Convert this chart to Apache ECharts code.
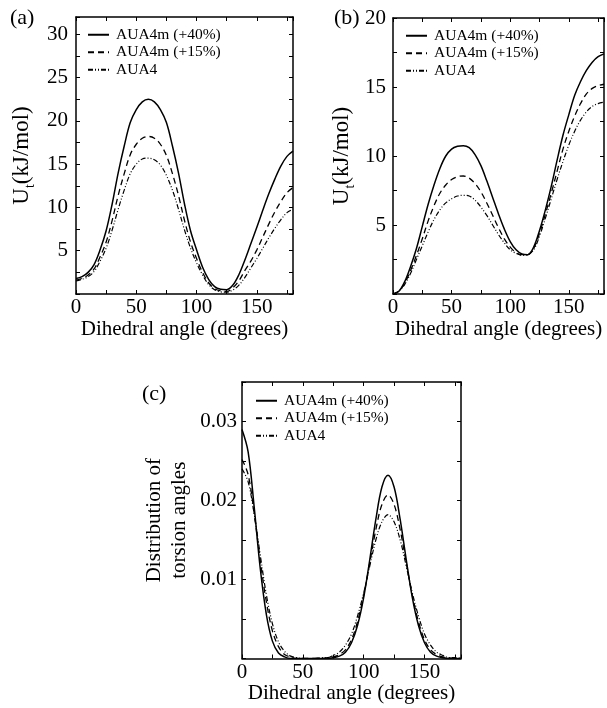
<!DOCTYPE html>
<html>
<head>
<meta charset="utf-8">
<script src="https://cdn.jsdelivr.net/npm/echarts@6/dist/echarts.min.js"></script>
<style>html,body{margin:0;padding:0;background:#fff;}#c{width:607px;height:708px;}</style>
</head>
<body>
<div id="c"></div>
<script>
const angles = [0,5,10,15,20,25,30,35,40,45,50,55,60,65,70,75,80,85,90,95,100,105,110,115,120,125,130,135,140,145,150,155,160,165,170,175,180];
const seriesNames = ['AUA4m (+40%)', 'AUA4m (+15%)', 'AUA4'];

// Panel (a): torsional potential, kJ/mol
const a40 = [1.8,2.0,2.5,3.4,5.1,7.3,10.4,14.0,17.1,19.8,21.3,22.2,22.5,22.2,21.3,19.8,17.1,14.0,10.4,7.3,5.1,3.1,1.7,0.85,0.55,0.5,1.0,2.2,3.9,5.8,7.7,9.7,11.6,13.3,14.8,15.9,16.5];
const a15 = [1.6,1.8,2.2,2.9,4.3,6.0,8.5,11.4,13.9,16.1,17.3,18.0,18.2,18.0,17.3,16.0,13.9,11.4,8.5,6.0,4.1,2.5,1.3,0.6,0.35,0.3,0.7,1.5,2.7,3.8,5.1,6.6,8.1,9.5,10.7,11.7,12.3];
const a4  = [1.5,1.7,2.0,2.6,3.8,5.3,7.4,9.8,12.0,13.9,15.0,15.6,15.7,15.5,14.9,13.7,12.0,9.8,7.4,5.3,3.6,2.2,1.1,0.5,0.25,0.2,0.45,1.0,1.9,3.0,4.1,5.3,6.5,7.6,8.6,9.4,9.8];

// Panel (b): torsional potential, kJ/mol
const b40 = [0,0.2,0.9,2.0,3.3,4.9,6.5,7.9,9.1,10.0,10.5,10.7,10.75,10.6,10.1,9.3,8.2,7.0,5.8,4.7,3.8,3.2,2.9,2.85,3.4,4.6,6.1,7.8,9.7,11.5,13.0,14.4,15.4,16.2,16.8,17.2,17.4];
const b15 = [0,0.2,0.8,1.7,2.8,4.0,5.3,6.4,7.3,7.9,8.3,8.5,8.55,8.4,8.0,7.4,6.6,5.7,4.8,4.0,3.4,3.0,2.85,2.85,3.3,4.4,5.8,7.3,8.9,10.5,11.8,12.9,13.8,14.5,14.9,15.1,15.2];
const b4  = [0,0.2,0.7,1.5,2.5,3.5,4.5,5.4,6.1,6.6,6.9,7.1,7.15,7.1,6.8,6.3,5.7,5.0,4.3,3.7,3.2,2.95,2.8,2.85,3.2,4.2,5.5,6.9,8.3,9.6,10.8,11.8,12.6,13.2,13.6,13.8,13.9];

// Panel (c): distribution of torsion angles
const c40 = [0.0290,0.0262,0.0192,0.0114,0.0056,0.0022,0.0007,0.0002,0,0,0,0,0,0,0,0.0001,0.0003,0.0008,0.0020,0.0042,0.0077,0.0125,0.0176,0.0217,0.0232,0.0217,0.0176,0.0125,0.0077,0.0042,0.0020,0.0008,0.0003,0.0001,0,0,0];
const c15 = [0.0252,0.0233,0.0184,0.0124,0.0072,0.0035,0.0015,0.0005,0.0002,0,0,0,0,0,0.0001,0.0002,0.0005,0.0011,0.0024,0.0047,0.0080,0.0121,0.0163,0.0195,0.0207,0.0195,0.0163,0.0121,0.0080,0.0047,0.0024,0.0011,0.0005,0.0002,0.0001,0,0];
const c4  = [0.0240,0.0224,0.0183,0.0131,0.0081,0.0044,0.0021,0.0009,0.0003,0.0001,0,0,0,0.0001,0.0001,0.0004,0.0008,0.0017,0.0031,0.0054,0.0083,0.0117,0.0150,0.0173,0.0182,0.0173,0.0150,0.0117,0.0083,0.0054,0.0031,0.0017,0.0008,0.0004,0.0001,0.0001,0];

const FONT = 'Liberation Serif';
const BLACK = '#000';
const lineStyles = [
  {type: 'solid', width: 1.5, color: BLACK},
  {type: [6, 4], width: 1.3, color: BLACK},
  {type: [5, 2, 1, 2, 1, 2], width: 1.2, color: BLACK}
];

const grids = [
  {left: 76, top: 17, width: 217, height: 277},
  {left: 393, top: 18, width: 218, height: 276},
  {left: 242, top: 382, width: 219, height: 276.5}
];

const xNameGaps = [25, 25, 21];
const xAxes = [];
grids.forEach((g, i) => {
  xAxes.push({
    gridIndex: i, type: 'value', min: 0, max: 180, interval: 25, position: 'bottom',
    axisLine: {show: true, onZero: false, lineStyle: {color: BLACK, width: 1.5}},
    axisTick: {show: true, inside: true, length: 4, lineStyle: {color: BLACK, width: 1}},
    axisLabel: {color: BLACK, fontFamily: FONT, fontSize: 21, margin: 3,
      formatter: v => (Math.round(v) % 50 === 0 && v < 180) ? String(Math.round(v)) : ''},
    splitLine: {show: false},
    name: 'Dihedral angle (degrees)', nameLocation: 'middle', nameGap: xNameGaps[i],
    nameTextStyle: {color: BLACK, fontFamily: FONT, fontSize: 21}
  });
  xAxes.push({
    gridIndex: i, type: 'value', min: 0, max: 180, interval: 25, position: 'top',
    axisLine: {show: true, onZero: false, lineStyle: {color: BLACK, width: 1.5}},
    axisTick: {show: true, inside: true, length: 4, lineStyle: {color: BLACK, width: 1}},
    axisLabel: {show: false}, splitLine: {show: false}
  });
});

const yCfg = [
  {max: 32, interval: 2.5, fmt: v => (Math.abs(v % 5) < 1e-6 && v > 0 && v <= 30) ? String(v) : ''},
  {max: 20, interval: 2.5, fmt: v => (Math.abs(v % 5) < 1e-6 && v > 0) ? String(v) : ''},
  {max: 0.035, interval: 0.005, fmt: v => { const r = Math.round(v * 1000); return (r % 10 === 0 && r > 0 && r <= 30) ? (r / 1000).toFixed(2) : ''; }}
];
const uRich = {
  u: {fontSize: 23, fontFamily: FONT, color: BLACK, lineHeight: 30},
  s: {fontSize: 14, fontFamily: FONT, color: BLACK, lineHeight: 14, verticalAlign: 'bottom'}
};
const yNames = [
  {name: '{u|U}{s|t}{u|(kJ/mol)}', gap: 39, style: {rich: uRich}},
  {name: '{u|U}{s|t}{u|(kJ/mol)}', gap: 36, style: {rich: uRich}},
  {name: 'Distribution of\ntorsion angles', gap: 50, style: {color: BLACK, fontFamily: FONT, fontSize: 21, lineHeight: 25}}
];
const yLabelMargins = [8, 7, 5];
const yAxes = [];
grids.forEach((g, i) => {
  yAxes.push({
    gridIndex: i, type: 'value', min: 0, max: yCfg[i].max, interval: yCfg[i].interval, position: 'left',
    axisLine: {show: true, onZero: false, lineStyle: {color: BLACK, width: 1.5}},
    axisTick: {show: true, inside: true, length: 4, lineStyle: {color: BLACK, width: 1}},
    axisLabel: {color: BLACK, fontFamily: FONT, fontSize: 21, margin: yLabelMargins[i], formatter: yCfg[i].fmt},
    splitLine: {show: false},
    name: yNames[i].name, nameLocation: 'middle', nameRotate: 90, nameGap: yNames[i].gap,
    nameTextStyle: Object.assign({color: BLACK, fontFamily: FONT, fontSize: 21}, yNames[i].style)
  });
  yAxes.push({
    gridIndex: i, type: 'value', min: 0, max: yCfg[i].max, interval: yCfg[i].interval, position: 'right',
    axisLine: {show: true, onZero: false, lineStyle: {color: BLACK, width: 1.5}},
    axisTick: {show: true, inside: true, length: 4, lineStyle: {color: BLACK, width: 1}},
    axisLabel: {show: false}, splitLine: {show: false}
  });
});

const panelData = [[a40, a15, a4], [b40, b15, b4], [c40, c15, c4]];
const series = [];
panelData.forEach((sets, p) => {
  sets.forEach((vals, k) => {
    series.push({
      type: 'line', name: seriesNames[k],
      xAxisIndex: p * 2, yAxisIndex: p * 2,
      data: angles.map((a, j) => [a, vals[j]]),
      smooth: 0.35, symbol: 'none', showSymbol: false,
      lineStyle: lineStyles[k], itemStyle: {color: BLACK},
      clip: true, z: 3 - k, animation: false
    });
  });
});

const legendPos = [{left: 87, top: 26}, {left: 405, top: 27}, {left: 255, top: 392}];
const legends = legendPos.map(p => ({
  left: p.left, top: p.top, orient: 'vertical', data: seriesNames,
  itemWidth: 21, itemHeight: 10, itemGap: 0, padding: 0,
  itemStyle: {opacity: 0, borderWidth: 0, color: 'rgba(0,0,0,0)'},
  textStyle: {color: BLACK, fontFamily: FONT, fontSize: 15.5, lineHeight: 17.5, padding: [0, 0, 0, 2]},
  selectedMode: false
}));

const chart = echarts.init(document.getElementById('c'), null, {renderer: 'canvas'});
chart.setOption({
  backgroundColor: '#fff',
  animation: false,
  grid: grids,
  xAxis: xAxes,
  yAxis: yAxes,
  legend: legends,
  series: series,
  graphic: [
    {type: 'text', left: 10, top: 7, style: {text: '(a)', font: '22px "Liberation Serif"', fill: BLACK}},
    {type: 'text', left: 334, top: 7, style: {text: '(b)', font: '22px "Liberation Serif"', fill: BLACK}},
    {type: 'text', left: 142, top: 383, style: {text: '(c)', font: '22px "Liberation Serif"', fill: BLACK}}
  ]
});
</script>
</body>
</html>
